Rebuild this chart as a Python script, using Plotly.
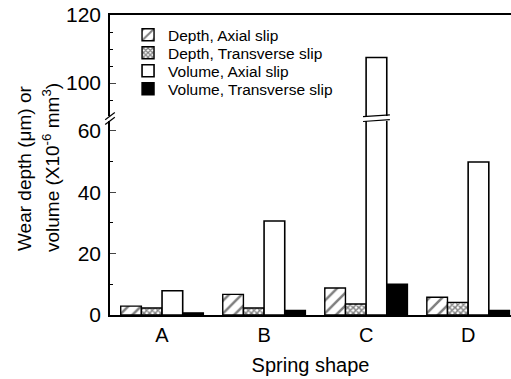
import plotly.graph_objects as go

categories = ["A", "B", "C", "D"]
depth_axial = [2.9, 6.7, 8.8, 5.8]
depth_transverse = [2.3, 2.3, 3.6, 4.1]
volume_axial = [7.9, 30.6, 107.5, 49.8]
volume_transverse = [0.7, 1.5, 10.0, 1.5]

series = [
    ("Depth, Axial slip", depth_axial, dict(color="white", line=dict(color="black", width=1.4),
                                             pattern=dict(shape="/", fgcolor="black", bgcolor="white", size=9, solidity=0.28))),
    ("Depth, Transverse slip", depth_transverse, dict(color="white", line=dict(color="black", width=1.4),
                                                   pattern=dict(shape="x", fgcolor="black", bgcolor="white", size=4, solidity=0.6))),
    ("Volume, Axial slip", volume_axial, dict(color="white", line=dict(color="black", width=1.6))),
    ("Volume, Transverse slip", volume_transverse, dict(color="black", line=dict(color="black", width=1.4))),
]
legend_rows_y = [0.933, 0.873, 0.813, 0.753]

BARGAP = 0.19
LOW_DOM = [0, 0.647]
UP_DOM = [0.663, 1]

fig = go.Figure()
for i, (name, vals, marker) in enumerate(series):
    lg = "legend" if i == 0 else f"legend{i + 1}"
    fig.add_trace(go.Bar(x=categories, y=vals, name=name, marker=marker, legend=lg,
                         xaxis="x", yaxis="y", legendgroup=name, offsetgroup=name))
    fig.add_trace(go.Bar(x=categories, y=vals, name=name, marker=marker, legend=lg,
                         xaxis="x2", yaxis="y2", legendgroup=name, offsetgroup=name, showlegend=False))

font = "Liberation Sans, Arial, sans-serif"
xr = [-0.51, 3.42]

# break marks on the C volume bar
gw = 1 - BARGAP
bw = gw / 4
cx = categories.index("C") - gw / 2 + bw * 2.5
shapes = []
for yy in (LOW_DOM[1], UP_DOM[0]):
    shapes.append(dict(type="line", xref="x", yref="paper", x0=cx - bw * 0.65, x1=cx + bw * 0.65,
                       y0=yy - 0.002, y1=yy + 0.004, line=dict(color="black", width=1.2)))
# break marks on the y axis
for yy in (LOW_DOM[1], UP_DOM[0]):
    shapes.append(dict(type="line", xref="paper", yref="paper", x0=-0.012, x1=0.012,
                       y0=yy - 0.012, y1=yy + 0.012, line=dict(color="black", width=1.2)))

legend_common = dict(x=0.045, xanchor="left", yanchor="middle", bgcolor="rgba(0,0,0,0)",
                     font=dict(size=15.5, family=font), itemwidth=30)
legends = {}
for i, yv in enumerate(legend_rows_y):
    key = "legend" if i == 0 else f"legend{i + 1}"
    legends[key] = dict(legend_common, y=yv)

fig.update_layout(
    width=511, height=379,
    margin=dict(l=110, r=0, t=15, b=64),
    paper_bgcolor="white", plot_bgcolor="white",
    barmode="group", bargap=BARGAP, bargroupgap=0,
    font=dict(family=font, color="black", size=18),
    showlegend=True,
    xaxis=dict(domain=[0, 1], anchor="y", range=xr, showline=True, linecolor="black", linewidth=1.5,
               ticks="", tickfont=dict(size=20), showgrid=False, zeroline=False, ticklabelstandoff=1,
               title=dict(text="Spring shape", font=dict(size=20), standoff=13)),
    xaxis2=dict(domain=[0, 1], anchor="y2", range=xr, matches="x", showline=True, linecolor="black",
                linewidth=1.5, side="top", showticklabels=False, ticks="", showgrid=False, zeroline=False),
    yaxis=dict(domain=LOW_DOM, anchor="x", range=[0, 63.2], tickvals=[0, 20, 40, 60],
               showline=True, linecolor="black", linewidth=1.5, ticks="inside", ticklen=6,
               tickfont=dict(size=21), showgrid=False, zeroline=False, ticklabelstandoff=3,
               minor=dict(dtick=10, ticks="inside", ticklen=3, tickcolor="black")),
    yaxis2=dict(domain=UP_DOM, anchor="x2", range=[90.3, 120], tickvals=[100, 120],
                showline=True, linecolor="black", linewidth=1.5, ticks="inside", ticklen=6,
                tickfont=dict(size=21), showgrid=False, zeroline=False, ticklabelstandoff=3,
                minor=dict(tick0=100, dtick=5, ticks="inside", ticklen=3, tickcolor="black")),
    shapes=shapes,
    annotations=[
        dict(text="Wear depth (\u03bcm) or",
             xref="paper", yref="paper", x=-0.2145, y=0.49, xanchor="center", yanchor="middle",
             textangle=-90, showarrow=False, font=dict(size=19)),
        dict(text="volume (X10<sup>-6</sup> mm<sup>3</sup>)",
             xref="paper", yref="paper", x=-0.147, y=0.49, xanchor="center", yanchor="middle",
             textangle=-90, showarrow=False, font=dict(size=19)),
    ],
    **legends,
)

fig.write_html("out.html", config={"displayModeBar": False},
               post_script="document.body.style.margin='0';document.body.style.overflow='hidden';")
